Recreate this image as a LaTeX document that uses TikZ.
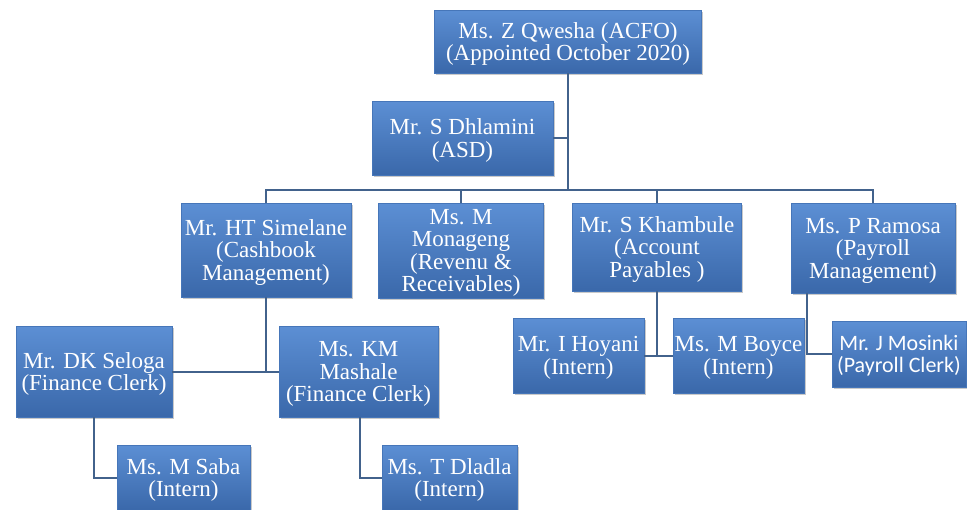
\documentclass[tikz,border=0pt]{standalone}
\usepackage{fontspec}
\setmainfont{Liberation Serif}
\newfontfamily\tnr{Liberation Serif}
\newfontfamily\calib{Carlito}
\usetikzlibrary{shadows}
\definecolor{boxtop}{RGB}{92,143,212}
\definecolor{boxbot}{RGB}{58,104,170}
\definecolor{boxedge}{RGB}{70,118,185}
\definecolor{linkc}{RGB}{66,98,140}
\tikzset{
  orgbox/.style={rectangle, inner sep=0pt, align=center, text=white,
    top color=boxtop, bottom color=boxbot, draw=boxedge, line width=0.6pt,
    font=\tnr\fontsize{23}{22.5}\selectfont, text depth=0pt,
    drop shadow={shadow xshift=1.5pt, shadow yshift=-1.5pt, opacity=0.35, fill=black!60}},
  link/.style={draw=linkc, line width=2pt}
}
\begin{document}
\begin{tikzpicture}[x=1pt,y=-1pt]
\useasboundingbox (0,0) rectangle (967,509);
\clip (0,0) rectangle (967,509);
\fill[white] (0,0) rectangle (967,509);

\node[orgbox, minimum width=267pt, minimum height=63pt] (acfo) at (568,41.5) {Ms. Z Qwesha (ACFO)\\(Appointed October 2020)};
\node[orgbox, minimum width=181pt, minimum height=74pt] (dhl) at (462.5,138) {Mr. S Dhlamini\\(ASD)};

\node[orgbox, minimum width=170pt, minimum height=94pt] (sim) at (266,250) {Mr. HT Simelane\\(Cashbook\\Management)};
\node[orgbox, minimum width=165pt, minimum height=95pt] (mon) at (461,250.5) {Ms. M\\Monageng\\(Revenu \&\\Receivables)};
\node[orgbox, minimum width=169pt, minimum height=88pt] (kha) at (657,247) {Mr. S Khambule\\(Account\\Payables )};
\node[orgbox, minimum width=164pt, minimum height=90pt] (ram) at (873,248) {Ms. P Ramosa\\(Payroll\\Management)};

\node[orgbox, minimum width=156pt, minimum height=91pt] (sel) at (94,371.5) {Mr. DK Seloga\\(Finance Clerk)};
\node[orgbox, minimum width=159pt, minimum height=91pt] (mas) at (358.5,371.5) {Ms. KM\\Mashale\\(Finance Clerk)};
\node[orgbox, minimum width=133pt, minimum height=65pt] (sab) at (183.5,477.5) {Ms. M Saba\\(Intern)};
\node[orgbox, minimum width=135pt, minimum height=65pt] (dla) at (449.5,477.5) {Ms. T Dladla\\(Intern)};

\node[orgbox, minimum width=131pt, minimum height=75pt] (hoy) at (578.5,355.5) {Mr. I Hoyani\\(Intern)};
\node[orgbox, minimum width=131pt, minimum height=75pt] (boy) at (738.5,355.5) {Ms. M Boyce\\(Intern)};
\node[orgbox, minimum width=134pt, minimum height=66pt, font=\calib\fontsize{22}{22.5}\selectfont] (mos) at (899,354) {Mr. J Mosinki\\(Payroll Clerk)};

\coordinate (bus) at (568,190);
\draw[link] (acfo.south) -- (bus);
\draw[link] (dhl.east) -- (dhl.east -| acfo.south);
\draw[link] (sim.north) |- (bus) -| (ram.north);
\draw[link] (mon.north) -- (mon.north |- bus);
\draw[link] (kha.north) -- (kha.north |- bus);

\draw[link] (sim.south) -- (sim.south |- sel.east);
\draw[link] (sel.east) -- (mas.west);
\draw[link] (sel.south) |- (sab.west);
\draw[link] ([xshift=1pt]mas.south) |- (dla.west);

\draw[link] (kha.south) -- (kha.south |- hoy.east);
\draw[link] (hoy.east) -- (boy.west);
\draw[link] ([xshift=16pt]ram.south west) |- (mos.west);
\end{tikzpicture}
\end{document}
